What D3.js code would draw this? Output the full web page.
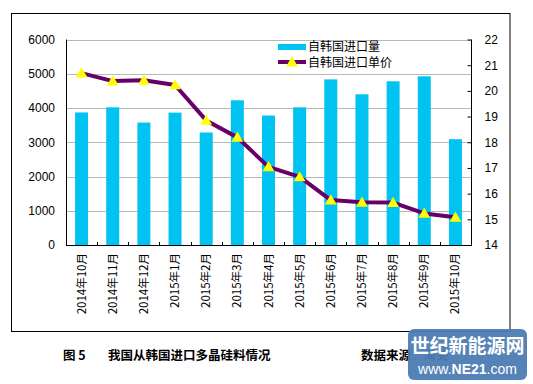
<!DOCTYPE html>
<html><head><meta charset="utf-8">
<script src="https://cdn.jsdelivr.net/npm/d3@7/dist/d3.min.js"></script>
<style>body{margin:0;background:#fff}svg{display:block}</style>
</head><body>
<script>
const categories = ["2014年10月","2014年11月","2014年12月","2015年1月","2015年2月","2015年3月","2015年4月","2015年5月","2015年6月","2015年7月","2015年8月","2015年9月","2015年10月"];
const volume = [3870, 4020, 3575, 3865, 3285, 4225, 3780, 4020, 4835, 4400, 4780, 4925, 3090];
const price = [20.69, 20.38, 20.41, 20.23, 18.85, 18.19, 17.04, 16.65, 15.75, 15.66, 15.65, 15.23, 15.08];
const leftTicks = [0,1000,2000,3000,4000,5000,6000];
const rightTicks = [14,15,16,17,18,19,20,21,22];
const seriesNames = ["自韩国进口量","自韩国进口单价"];

const W=533,H=384;
const svg=d3.select("body").append("svg").attr("width",W).attr("height",H);
const font="'Liberation Sans', Arial, sans-serif";
const cjk="'Noto Sans CJK SC', sans-serif";

// outer border
svg.append("rect").attr("x",11.5).attr("y",13.5).attr("width",498.5).attr("height",318)
  .attr("fill","none").attr("stroke","#000").attr("stroke-width",1);

const L=66,R=471,T=39.5,B=245;
const xb=d3.scaleBand().domain(categories).range([L,R]);
const yL=d3.scaleLinear().domain([0,6000]).range([B,T]);
const yR=d3.scaleLinear().domain([14,22]).range([B,T]);

// gridlines
svg.append("g").selectAll("line").data(leftTicks.slice(1)).join("line")
  .attr("x1",L).attr("x2",R).attr("y1",d=>Math.round(yL(d))+0.5).attr("y2",d=>Math.round(yL(d))+0.5)
  .attr("stroke","#b8b8b8").attr("stroke-width",1);

// bars
svg.append("g").selectAll("rect").data(volume).join("rect")
  .attr("x",(d,i)=>xb(categories[i])+xb.bandwidth()/2-6.5)
  .attr("width",13)
  .attr("y",d=>yL(d)).attr("height",d=>B-yL(d))
  .attr("fill","#00C3F2");

// axes lines
svg.append("line").attr("x1",L+0.5).attr("x2",L+0.5).attr("y1",T).attr("y2",B).attr("stroke","#000");
svg.append("line").attr("x1",R+0.5).attr("x2",R+0.5).attr("y1",T).attr("y2",B).attr("stroke","#000");
svg.append("line").attr("x1",L).attr("x2",R+1).attr("y1",B+0.5).attr("y2",B+0.5).attr("stroke","#000");

// left labels
const gl=d3.axisLeft(yL).tickValues(leftTicks).tickFormat(d3.format("d")).tickSize(0).tickPadding(11);
svg.append("g").attr("transform",`translate(${L},0)`).call(gl)
  .call(g=>g.select(".domain").remove())
  .selectAll("text").attr("font-family",font).attr("font-size",12).attr("fill","#000");

// right axis
const gr=d3.axisRight(yR).tickValues(rightTicks).tickFormat(d3.format("d")).tickSize(-4).tickPadding(13);
svg.append("g").attr("transform",`translate(${R+0.5},0)`).call(gr)
  .call(g=>g.select(".domain").remove())
  .call(g=>g.selectAll("line").attr("stroke","#000"))
  .selectAll("text").attr("font-family",font).attr("font-size",12).attr("fill","#000");

// x ticks at boundaries
svg.append("g").selectAll("line").data(categories.slice(1)).join("line")
  .attr("x1",d=>Math.round(xb(d))+0.5).attr("x2",d=>Math.round(xb(d))+0.5)
  .attr("y1",B-3).attr("y2",B).attr("stroke","#000");

// x labels
svg.append("g").selectAll("text").data(categories).join("text")
  .attr("transform",d=>`translate(${xb(d)+xb.bandwidth()/2+4},${B+8}) rotate(-90)`)
  .attr("text-anchor","end").attr("font-family",cjk).attr("font-size",11.5).attr("fill","#000")
  .text(d=>d);

// line
const line=d3.line().x((d,i)=>xb(categories[i])+xb.bandwidth()/2).y(d=>yR(d));
svg.append("path").datum(price).attr("d",line).attr("fill","none")
  .attr("stroke","#680068").attr("stroke-width",4).attr("stroke-linejoin","round");
const tri=d3.symbol().type(d3.symbolTriangle).size(60);
svg.append("g").selectAll("path").data(price).join("path")
  .attr("transform",(d,i)=>`translate(${xb(categories[i])+xb.bandwidth()/2},${yR(d)+1})`)
  .attr("d",tri).attr("fill","#FFFF00");

// legend
const lg=svg.append("g");
lg.append("rect").attr("x",278).attr("y",44).attr("width",28).attr("height",6).attr("fill","#00C3F2");
lg.append("line").attr("x1",278).attr("x2",306).attr("y1",62).attr("y2",62).attr("stroke","#680068").attr("stroke-width",4);
lg.append("path").attr("transform","translate(292,63)").attr("d",tri).attr("fill","#FFFF00");
lg.selectAll("text").data(seriesNames).join("text")
  .attr("x",308).attr("y",(d,i)=>47+i*15.5).attr("dy","0.36em")
  .attr("font-family",cjk).attr("font-size",12).attr("fill","#000").text(d=>d);

// caption
const cap=svg.append("g").attr("font-family",cjk).attr("font-weight","bold").attr("font-size",12.5).attr("fill","#000");
cap.append("text").attr("x",63).attr("y",360).text("图 5");
cap.append("text").attr("x",108).attr("y",360).text("我国从韩国进口多晶硅料情况");
cap.append("text").attr("x",361).attr("y",360).text("数据来源：海关");

// watermark
const wm=svg.append("g");
wm.append("rect").attr("x",408).attr("y",329).attr("width",119).attr("height",51).attr("rx",6)
  .attr("fill","#4d7cb3").attr("opacity",0.95);
wm.append("text").attr("x",467.5).attr("y",353).attr("text-anchor","middle").attr("font-family",cjk)
  .attr("font-size",19).attr("font-weight","bold").attr("fill","#fff").text("世纪新能源网");
const wt=wm.append("text").attr("x",467.5).attr("y",374).attr("text-anchor","middle").attr("font-family",font)
  .attr("font-size",14).attr("fill","#fff");
wt.append("tspan").text("www.");
wt.append("tspan").attr("font-weight","bold").text("NE21");
wt.append("tspan").text(".com");
</script>
</body></html>
